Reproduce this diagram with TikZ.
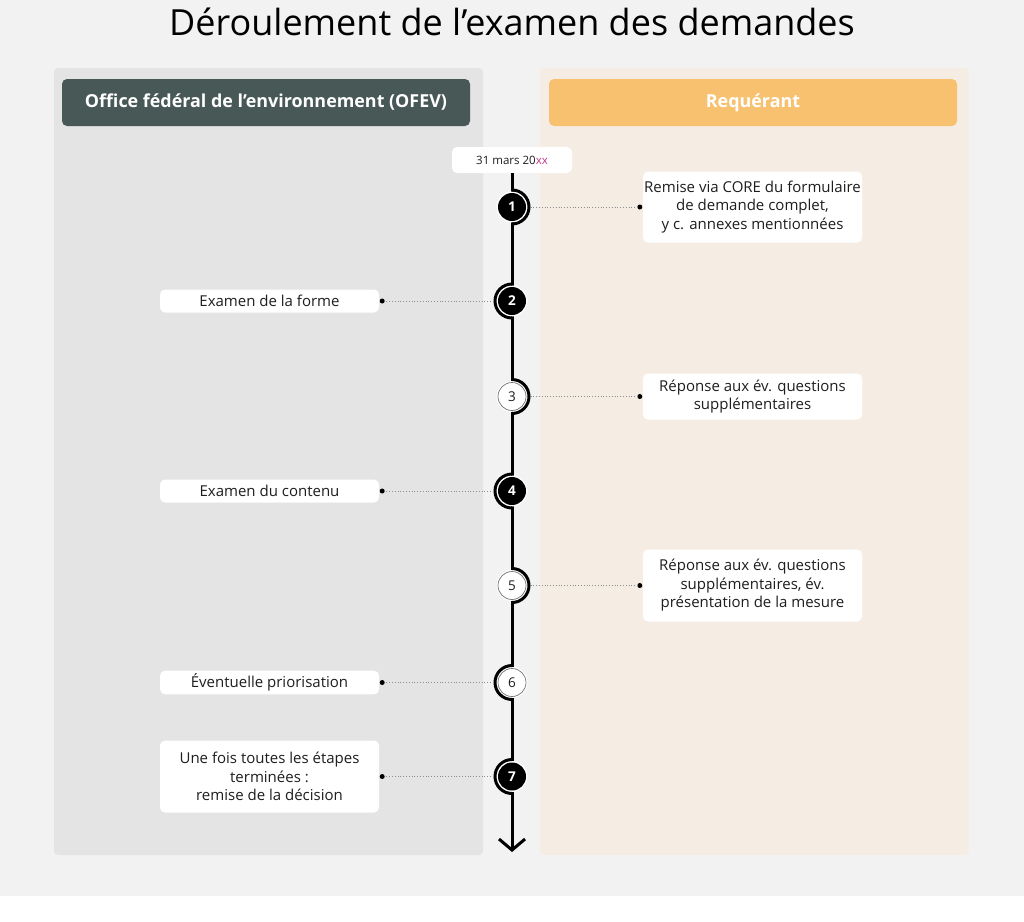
\documentclass[tikz,border=0pt]{standalone}
\usepackage{fontspec}
\setmainfont{Open Sans}
\usetikzlibrary{arrows.meta}

\definecolor{pagebg}{HTML}{F3F2F3}
\definecolor{leftbg}{HTML}{E3E4E3}
\definecolor{rightbg}{HTML}{F5EDE4}
\definecolor{ofevhead}{HTML}{485856}
\definecolor{reqhead}{HTML}{F8C170}
\definecolor{datexx}{HTML}{C2378B}
\definecolor{txt}{HTML}{1E1E1E}

\begin{document}
\begin{tikzpicture}[x=1pt, y=1pt,
		head/.style={rounded corners=5pt, minimum width=408pt, minimum height=47pt, inner sep=0pt,
			text=white, font=\fontsize{17.9}{20}\selectfont\bfseries},
		tbox/.style={fill=white, rounded corners=5pt, minimum width=219pt, minimum height=23pt,
			inner xsep=1pt, inner ysep=3pt, align=center, text=txt, font=\fontsize{15}{18.5}\selectfont},
		stepfull/.style={circle, minimum size=28pt, inner sep=0pt, outer sep=4.5pt, fill=black,
			text=white, font=\fontsize{13.5}{13.5}\selectfont\bfseries, preaction={draw=white, line width=3pt}},
		stepopen/.style={circle, minimum size=28pt, inner sep=0pt, outer sep=4.5pt, fill=white,
			draw=black!55, line width=0.7pt, text=txt, font=\fontsize{13.5}{13.5}\selectfont,
			preaction={draw=white, line width=3pt}},
		arcline/.style={line width=3pt},
		dotline/.style={black!45, dotted, line width=0.8pt},
		pin/.style={circle, fill=black, inner sep=0pt, minimum size=5pt},
	]
	\def\cx{512};
	\def\lx{269.5};
	\def\rx{752.5};

	% page and the two columns
	\useasboundingbox (0,0) rectangle (1024,-921);
	\fill[white] (0,0) rectangle (1024,-921);
	\fill[pagebg] (0,0) rectangle (1024,-896);
	\fill[leftbg, rounded corners=4pt] (54,-68) rectangle (483,-855);
	\fill[rightbg, rounded corners=4pt] (540,-68) rectangle (969,-855);

	\node[text=black, font=\fontsize{36}{40}\selectfont] (title) at (\cx,-22) {Déroulement de l’examen des demandes};

	\node[head, fill=ofevhead] (ofev) at (266,-102.5) {Office fédéral de l’environnement (OFEV)};
	\node[head, fill=reqhead] (req) at (753,-102.5) {Requérant};

	% timeline
	\node[fill=white, rounded corners=5pt, minimum width=120pt, minimum height=26pt, inner sep=0pt,
		text=txt, font=\fontsize{11.5}{13}\selectfont] (date) at (\cx,-160) {31 mars 20{\color{datexx}xx}};
	\coordinate (end) at (\cx,-852);
	\draw[line width=3pt, -{Straight Barb[length=11pt, width=26pt]}] (date.south) -- (end);

	\begin{scope}
		\node[stepfull] (s1) at (\cx,-207) {1};
		\node[stepfull] (s2) at (\cx,-301) {2};
		\node[stepopen] (s3) at (\cx,-396.5) {3};
		\node[stepfull] (s4) at (\cx,-491) {4};
		\node[stepopen] (s5) at (\cx,-585.5) {5};
		\node[stepopen] (s6) at (\cx,-682.5) {6};
		\node[stepfull] (s7) at (\cx,-776.5) {7};
	\end{scope}

	\begin{scope}[arcline]
		\draw (s1.center) ++(0,17) arc[start angle=90, end angle=-90, radius=17pt];
		\draw (s3.center) ++(0,17) arc[start angle=90, end angle=-90, radius=17pt];
		\draw (s5.center) ++(0,17) arc[start angle=90, end angle=-90, radius=17pt];
		\draw (s2.center) ++(0,17) arc[start angle=90, end angle=270, radius=17pt];
		\draw (s4.center) ++(0,17) arc[start angle=90, end angle=270, radius=17pt];
		\draw (s6.center) ++(0,17) arc[start angle=90, end angle=270, radius=17pt];
		\draw (s7.center) ++(0,17) arc[start angle=90, end angle=270, radius=17pt];
	\end{scope}

	% requérant side
	\node[tbox, minimum height=71pt] (b1) at (\rx,-207) {Remise via CORE du formulaire\\de demande complet,\\y c. annexes mentionnées};
	\node[tbox, minimum height=46pt] (b3) at (\rx,-396.5) {Réponse aux év. questions\\supplémentaires};
	\node[tbox, minimum height=72pt] (b5) at (\rx,-585.5) {Réponse aux év. questions\\supplémentaires, év.\\présentation de la mesure};

	% OFEV side
	\node[tbox] (b2) at (\lx,-301) {Examen de la forme};
	\node[tbox] (b4) at (\lx,-491) {Examen du contenu};
	\node[tbox] (b6) at (\lx,-682.5) {Éventuelle priorisation};
	\node[tbox, minimum height=72pt] (b7) at (\lx,-776.5) {Une fois toutes les étapes\\terminées :\\remise de la décision};

	\begin{scope}
		\node[pin] (p1) at ([xshift=-3pt]b1.west) {};
		\node[pin] (p3) at ([xshift=-3pt]b3.west) {};
		\node[pin] (p5) at ([xshift=-3pt]b5.west) {};
		\node[pin] (p2) at ([xshift=3pt]b2.east) {};
		\node[pin] (p4) at ([xshift=3pt]b4.east) {};
		\node[pin] (p6) at ([xshift=3pt]b6.east) {};
		\node[pin] (p7) at ([xshift=3pt]b7.east) {};
	\end{scope}

	\begin{scope}[dotline]
		\draw (s1) -- (p1);
		\draw (s3) -- (p3);
		\draw (s5) -- (p5);
		\draw (s2) -- (p2);
		\draw (s4) -- (p4);
		\draw (s6) -- (p6);
		\draw (s7) -- (p7);
	\end{scope}
\end{tikzpicture}
\end{document}
